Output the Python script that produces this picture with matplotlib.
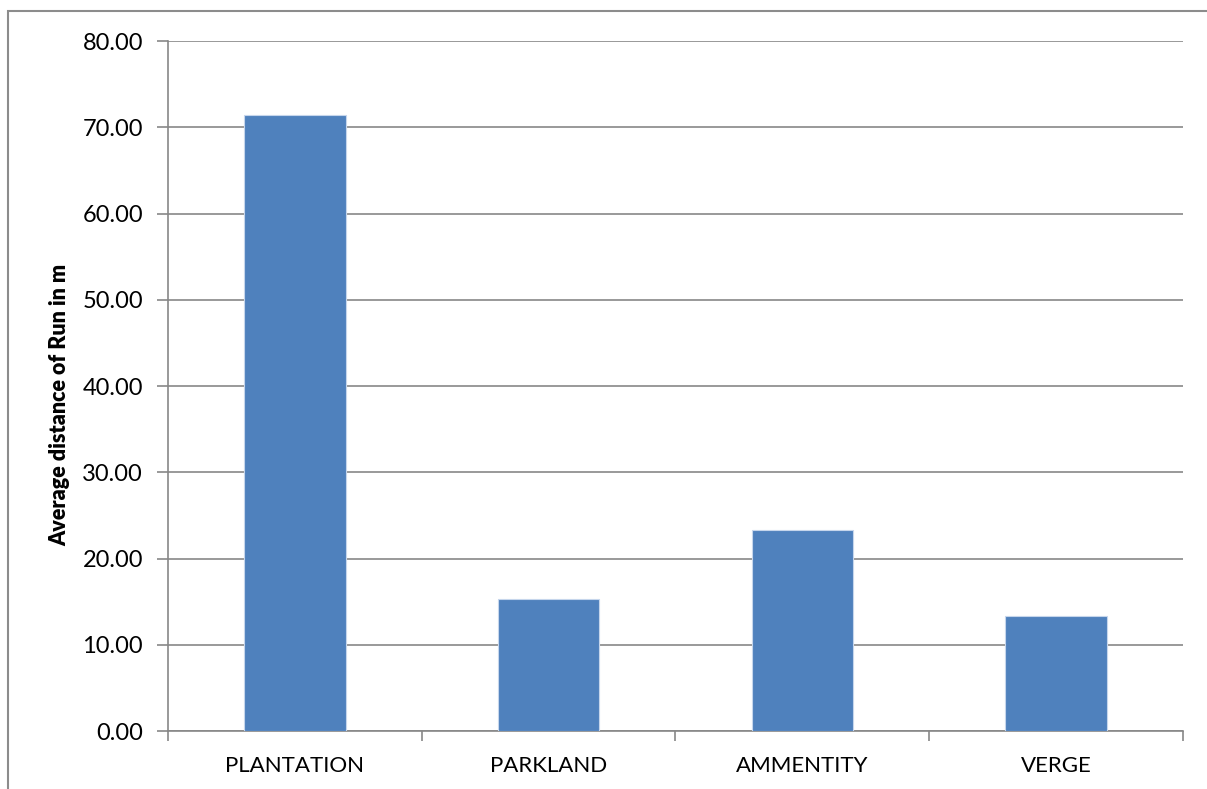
import matplotlib.pyplot as plt
from matplotlib.patches import Rectangle
from matplotlib.ticker import FixedLocator, FormatStrFormatter

# average run distance by habitat type
habitats = ["PLANTATION", "PARKLAND", "AMMENTITY", "VERGE"]
avg_run = [71.4, 15.25, 23.3, 13.3]
y_ticks = [0, 10, 20, 30, 40, 50, 60, 70, 80]

plt.rcParams['font.family'] = ['Lato', 'DejaVu Sans']

fig = plt.figure(figsize=(12.07, 7.89), dpi=100)
ax = fig.add_axes([0.1392, 0.0735, 0.8409, 0.8745])

grey = '#878787'
x = range(len(habitats))
ax.bar(x, avg_run, width=0.4, color='#4f81bd', edgecolor='#c6d6ec',
       linewidth=0.8, zorder=3)

ax.set_xlim(-0.5, len(habitats) - 0.5)
ax.set_ylim(0, 80)
ax.set_yticks(y_ticks)
ax.yaxis.set_major_formatter(FormatStrFormatter('%.2f'))
ax.yaxis.grid(True, color=grey, linewidth=1.2, zorder=0)

ax.set_xticks(list(x))
ax.set_xticklabels(habitats)
ax.xaxis.set_minor_locator(FixedLocator([i - 0.5 for i in range(len(habitats) + 1)]))
ax.tick_params(axis='x', which='major', length=0, pad=18, labelsize=16)
ax.tick_params(axis='x', which='minor', length=7, color=grey, width=1.2)
ax.tick_params(axis='y', length=8, color=grey, width=1.2, pad=10, labelsize=17)

for side in ['top', 'right']:
    ax.spines[side].set_visible(False)
for side in ['left', 'bottom']:
    ax.spines[side].set_color(grey)
    ax.spines[side].set_linewidth(1.2)

ax.set_ylabel('Average distance of Run in m', fontsize=15.5, fontweight='heavy')
ax.yaxis.set_label_coords(-0.0965, 0.472)

# chart area border
fig.patches.append(Rectangle((8 / 1207, -0.1), 1.2, 1.1 - 11 / 789,
                             transform=fig.transFigure, fill=False,
                             edgecolor='#8c8c8c', linewidth=1.5))

fig.savefig('out.png', dpi=100)
